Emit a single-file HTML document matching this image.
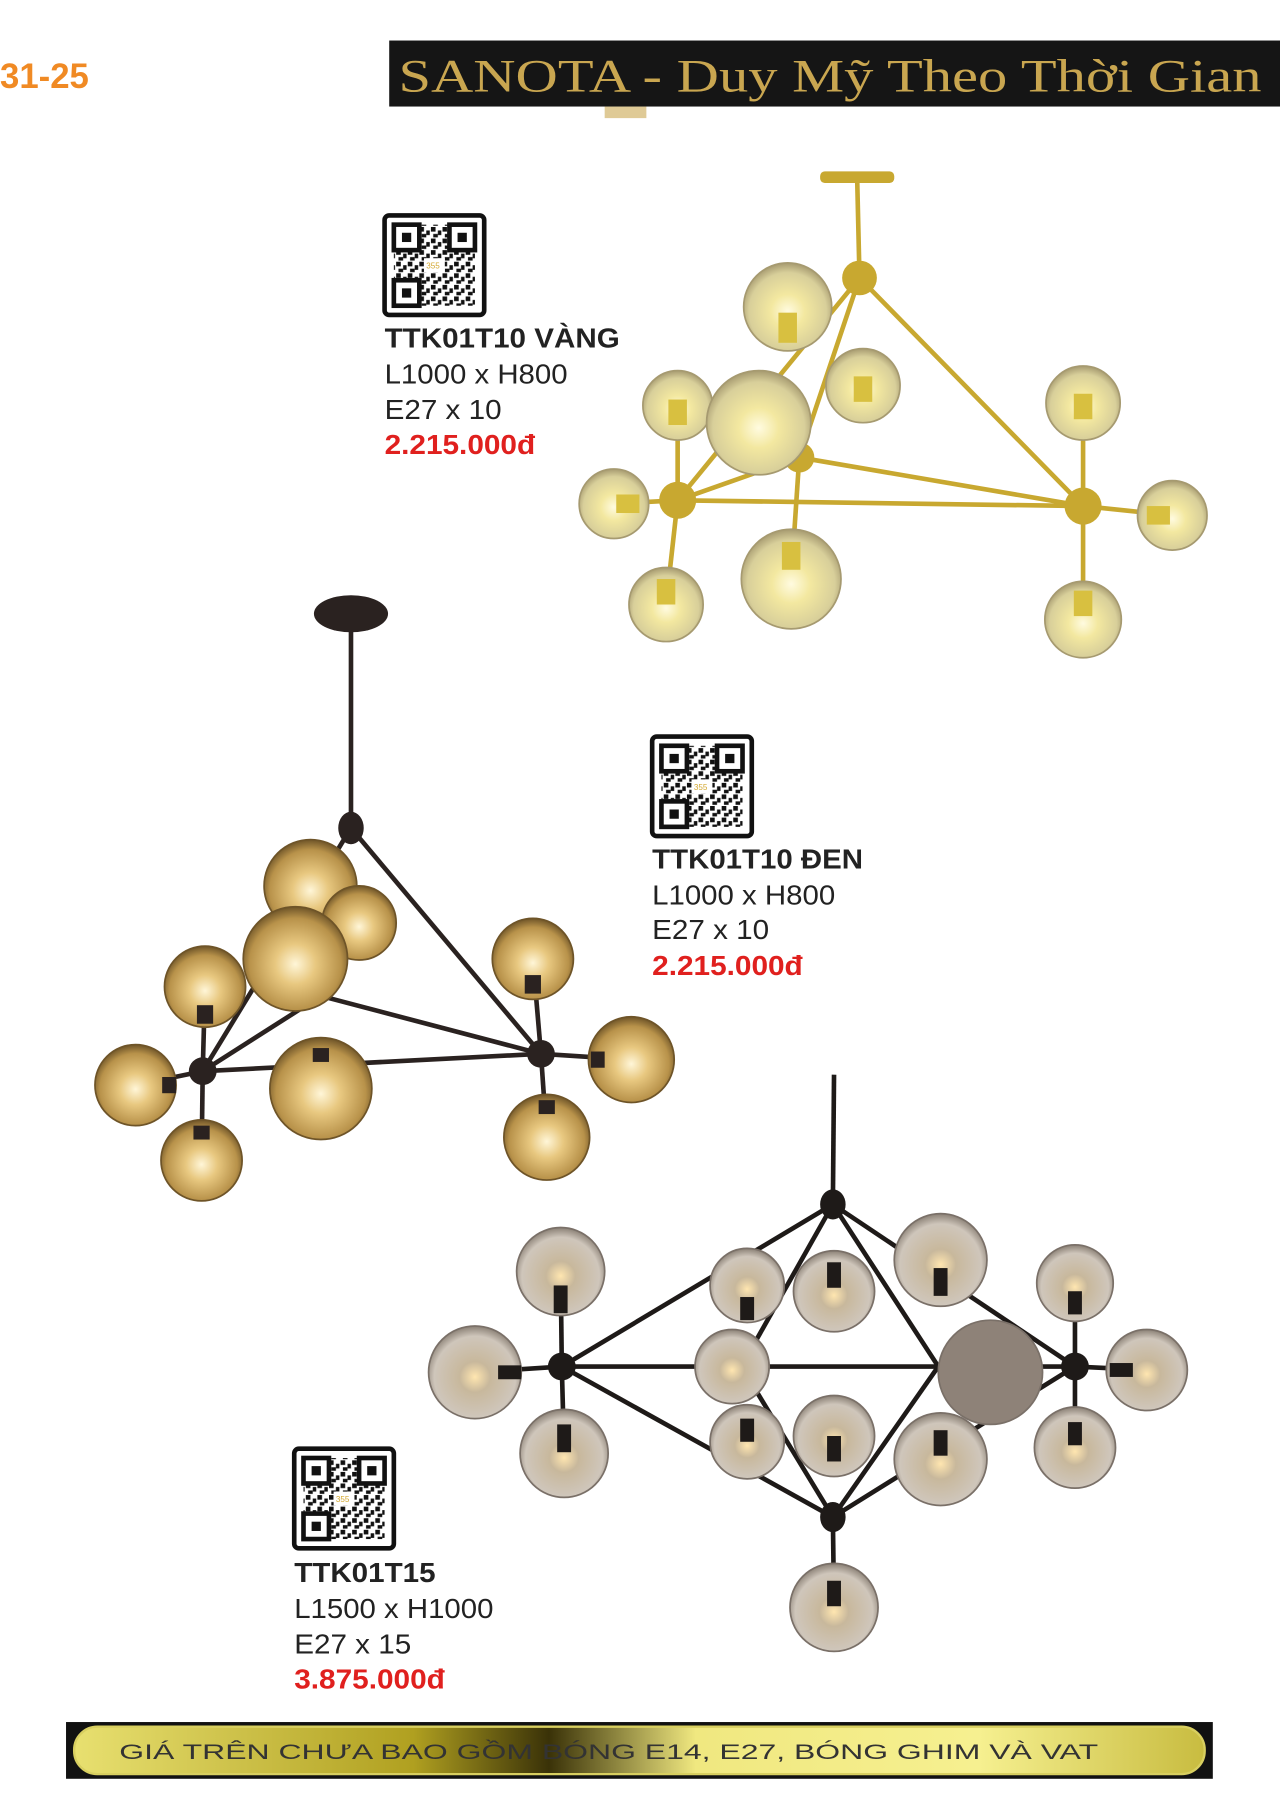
<!DOCTYPE html>
<html><head><meta charset="utf-8"><style>
html,body{margin:0;padding:0;background:#fff;}
svg{display:block;}
</style></head><body>
<svg width="1280" height="1817" viewBox="0 0 1105 1569" preserveAspectRatio="none" xmlns="http://www.w3.org/2000/svg">
<defs>
<radialGradient id="gold" cx="50%" cy="55%" r="55%">
<stop offset="0" stop-color="#fffbe0"/><stop offset="0.35" stop-color="#f3e8a0"/><stop offset="0.8" stop-color="#d8cf9a"/><stop offset="1" stop-color="#a69a70"/></radialGradient>
<radialGradient id="amber" cx="50%" cy="55%" r="55%">
<stop offset="0" stop-color="#fff6d8"/><stop offset="0.35" stop-color="#e8c880"/><stop offset="0.8" stop-color="#b8924a"/><stop offset="1" stop-color="#6e5428"/></radialGradient>
<radialGradient id="smoke" cx="50%" cy="55%" r="55%">
<stop offset="0" stop-color="#ffe6b0"/><stop offset="0.3" stop-color="#c8b89c"/><stop offset="0.8" stop-color="#cfc6bb"/><stop offset="1" stop-color="#8a8075"/></radialGradient>
<linearGradient id="foot" x1="0" x2="1" y1="0" y2="0">
<stop offset="0" stop-color="#e8e070"/><stop offset="0.3" stop-color="#b0a020"/><stop offset="0.42" stop-color="#3a3208"/><stop offset="0.55" stop-color="#f0e880"/><stop offset="0.8" stop-color="#f6f090"/><stop offset="1" stop-color="#c8bc40"/></linearGradient>
<pattern id="qrp" width="10" height="10" patternUnits="userSpaceOnUse">
<rect width="10" height="10" fill="#fff"/><rect x="0" y="0" width="4" height="4" fill="#111"/><rect x="6" y="3" width="3" height="4" fill="#111"/><rect x="2" y="6" width="4" height="3" fill="#111"/></pattern>
<g id="qr">
<rect x="0" y="0" width="86" height="86" rx="4" fill="#fff" stroke="#111" stroke-width="4"/>
<rect x="8" y="8" width="70" height="70" fill="url(#qrp)"/>
<rect x="8" y="8" width="22" height="22" fill="#fff" stroke="#111" stroke-width="4"/><rect x="15" y="15" width="8" height="8" fill="#111"/>
<rect x="56" y="8" width="22" height="22" fill="#fff" stroke="#111" stroke-width="4"/><rect x="63" y="15" width="8" height="8" fill="#111"/>
<rect x="8" y="56" width="22" height="22" fill="#fff" stroke="#111" stroke-width="4"/><rect x="15" y="63" width="8" height="8" fill="#111"/>
<rect x="34" y="37" width="18" height="12" fill="#fff"/><text x="36" y="46" font-size="7" fill="#d4a830" font-family="Liberation Sans, sans-serif">355</text>
</g>
</defs>
<!-- header -->
<text x="0" y="76" font-family="Liberation Sans, sans-serif" font-weight="bold" font-size="30" fill="#f08a24">31-25</text>
<rect x="336" y="35" width="769" height="57" fill="#151515"/>
<text x="344" y="79" font-family="Liberation Serif, serif" font-size="40" fill="#c9a650" textLength="745" lengthAdjust="spacingAndGlyphs">SANOTA - Duy Mỹ Theo Thời Gian</text>
<rect x="522" y="92" width="36" height="10" fill="#c9a650" opacity="0.6"/>
<!-- footer -->
<rect x="57" y="1487" width="990" height="49" fill="#111"/>
<rect x="64" y="1491" width="976" height="41" rx="20" fill="url(#foot)" stroke="#d8cf60" stroke-width="2"/>
<text x="103" y="1519" font-family="Liberation Sans, sans-serif" font-size="18" fill="#333" textLength="845" lengthAdjust="spacingAndGlyphs">GIÁ TRÊN CHƯA BAO GỒM BÓNG E14, E27, BÓNG GHIM VÀ VAT</text>

<!-- QR codes & labels -->
<g font-family="Liberation Sans, sans-serif" font-size="24" fill="#222">
<use href="#qr" x="332" y="186"/>
<text x="332" y="300" font-weight="bold" textLength="203" lengthAdjust="spacingAndGlyphs">TTK01T10 VÀNG</text>
<text x="332" y="331" textLength="158" lengthAdjust="spacingAndGlyphs">L1000 x H800</text>
<text x="332" y="362" textLength="101" lengthAdjust="spacingAndGlyphs">E27 x 10</text>
<text x="332" y="392" font-weight="bold" fill="#e0201e" textLength="130" lengthAdjust="spacingAndGlyphs">2.215.000đ</text>

<use href="#qr" x="563" y="636"/>
<text x="563" y="750" font-weight="bold" textLength="182" lengthAdjust="spacingAndGlyphs">TTK01T10 ĐEN</text>
<text x="563" y="781" textLength="158" lengthAdjust="spacingAndGlyphs">L1000 x H800</text>
<text x="563" y="811" textLength="101" lengthAdjust="spacingAndGlyphs">E27 x 10</text>
<text x="563" y="842" font-weight="bold" fill="#e0201e" textLength="130" lengthAdjust="spacingAndGlyphs">2.215.000đ</text>

<use href="#qr" x="254" y="1251"/>
<text x="254" y="1366" font-weight="bold" textLength="122" lengthAdjust="spacingAndGlyphs">TTK01T15</text>
<text x="254" y="1397" textLength="172" lengthAdjust="spacingAndGlyphs">L1500 x H1000</text>
<text x="254" y="1428" textLength="101" lengthAdjust="spacingAndGlyphs">E27 x 15</text>
<text x="254" y="1458" font-weight="bold" fill="#e0201e" textLength="130" lengthAdjust="spacingAndGlyphs">3.875.000đ</text>
</g>

<!-- chandelier 1 gold -->
<g stroke="#c8a830" stroke-width="4" fill="none">
<line x1="740" y1="155" x2="742" y2="240"/>
<line x1="742" y1="240" x2="585" y2="432"/><line x1="742" y1="240" x2="935" y2="437"/>
<line x1="585" y1="432" x2="935" y2="437"/><line x1="742" y1="240" x2="690" y2="395"/>
<line x1="690" y1="395" x2="585" y2="432"/><line x1="690" y1="395" x2="935" y2="437"/>
<line x1="585" y1="432" x2="585" y2="350"/><line x1="585" y1="432" x2="530" y2="435"/><line x1="585" y1="432" x2="575" y2="522"/>
<line x1="935" y1="437" x2="935" y2="348"/><line x1="935" y1="437" x2="1012" y2="445"/><line x1="935" y1="437" x2="935" y2="535"/>
<line x1="690" y1="395" x2="683" y2="500"/>
</g>
<rect x="708" y="148" width="64" height="10" rx="4" fill="#c8a830"/>
<g fill="#c8a830"><circle cx="742" cy="240" r="15"/><circle cx="585" cy="432" r="16"/><circle cx="935" cy="437" r="16"/><circle cx="690" cy="395" r="13"/></g>
<g fill="url(#gold)" stroke="#a69a70" stroke-width="1.5">
<circle cx="680" cy="265" r="38"/><circle cx="745" cy="333" r="32"/><circle cx="585" cy="350" r="30"/><circle cx="935" cy="348" r="32"/>
<circle cx="530" cy="435" r="30"/><circle cx="1012" cy="445" r="30"/><circle cx="575" cy="522" r="32"/><circle cx="683" cy="500" r="43"/><circle cx="935" cy="535" r="33"/><circle cx="655" cy="365" r="45"/>
</g>
<g fill="#d8c040"><rect x="672" y="270" width="16" height="26"/><rect x="737" y="325" width="16" height="22"/><rect x="577" y="345" width="16" height="22"/><rect x="927" y="340" width="16" height="22"/><rect x="567" y="500" width="16" height="22"/><rect x="675" y="468" width="16" height="24"/><rect x="927" y="510" width="16" height="22"/><rect x="532" y="427" width="20" height="16"/><rect x="990" y="437" width="20" height="16"/></g>

<!-- chandelier 2 black -->
<g stroke="#2a2220" stroke-width="4" fill="none">
<line x1="303" y1="530" x2="303" y2="715"/>
<line x1="303" y1="715" x2="175" y2="925"/><line x1="303" y1="715" x2="467" y2="910"/><line x1="175" y1="925" x2="467" y2="910"/>
<line x1="175" y1="925" x2="277" y2="860"/><line x1="277" y1="860" x2="467" y2="910"/>
<line x1="175" y1="925" x2="177" y2="852"/><line x1="175" y1="925" x2="117" y2="937"/><line x1="175" y1="925" x2="174" y2="1002"/>
<line x1="467" y1="910" x2="460" y2="828"/><line x1="467" y1="910" x2="545" y2="915"/><line x1="467" y1="910" x2="472" y2="982"/>
</g>
<ellipse cx="303" cy="530" rx="32" ry="16" fill="#2a2220"/>
<g fill="#2a2220"><ellipse cx="303" cy="715" rx="11" ry="14"/><circle cx="175" cy="925" r="12"/><circle cx="467" cy="910" r="12"/></g>
<g fill="url(#amber)" stroke="#6e5428" stroke-width="1.5">
<circle cx="268" cy="765" r="40"/><circle cx="310" cy="797" r="32"/><circle cx="177" cy="852" r="35"/><circle cx="460" cy="828" r="35"/>
<circle cx="117" cy="937" r="35"/><circle cx="545" cy="915" r="37"/><circle cx="277" cy="940" r="44"/><circle cx="174" cy="1002" r="35"/><circle cx="472" cy="982" r="37"/><circle cx="255" cy="828" r="45"/>
</g>
<g fill="#2a2220"><rect x="170" y="868" width="14" height="16"/><rect x="453" y="842" width="14" height="16"/><rect x="270" y="905" width="14" height="12"/><rect x="167" y="972" width="14" height="12"/><rect x="465" y="950" width="14" height="12"/><rect x="510" y="908" width="12" height="14"/><rect x="140" y="930" width="12" height="14"/></g>

<!-- chandelier 3 -->
<g stroke="#1e1a18" stroke-width="4" fill="none">
<line x1="720" y1="928" x2="719" y2="1040"/>
<line x1="719" y1="1040" x2="485" y2="1180"/><line x1="719" y1="1040" x2="928" y2="1180"/>
<line x1="485" y1="1180" x2="719" y2="1310"/><line x1="928" y1="1180" x2="719" y2="1310"/>
<line x1="485" y1="1180" x2="928" y2="1180"/>
<line x1="719" y1="1040" x2="640" y2="1180"/><line x1="719" y1="1040" x2="810" y2="1180"/>
<line x1="640" y1="1180" x2="719" y2="1310"/><line x1="810" y1="1180" x2="719" y2="1310"/>
<line x1="719" y1="1310" x2="720" y2="1388"/>
<line x1="485" y1="1180" x2="484" y2="1098"/><line x1="485" y1="1180" x2="410" y2="1185"/><line x1="485" y1="1180" x2="487" y2="1255"/>
<line x1="928" y1="1180" x2="928" y2="1108"/><line x1="928" y1="1180" x2="990" y2="1183"/><line x1="928" y1="1180" x2="928" y2="1250"/>
</g>
<g fill="#1e1a18"><ellipse cx="719" cy="1040" rx="11" ry="13"/><ellipse cx="719" cy="1310" rx="11" ry="13"/><circle cx="485" cy="1180" r="12"/><circle cx="928" cy="1180" r="12"/></g>
<g fill="url(#smoke)" stroke="#7a7068" stroke-width="1.5">
<circle cx="484" cy="1098" r="38"/><circle cx="410" cy="1185" r="40"/><circle cx="487" cy="1255" r="38"/><circle cx="645" cy="1110" r="32"/>
<circle cx="720" cy="1115" r="35"/><circle cx="812" cy="1088" r="40"/><circle cx="928" cy="1108" r="33"/><circle cx="632" cy="1180" r="32"/>
<circle cx="990" cy="1183" r="35"/><circle cx="645" cy="1245" r="32"/><circle cx="720" cy="1240" r="35"/><circle cx="812" cy="1260" r="40"/>
<circle cx="928" cy="1250" r="35"/><circle cx="720" cy="1388" r="38"/><circle cx="855" cy="1185" r="45" fill="#8e8278"/>
</g>
<g fill="#1e1a18"><rect x="478" y="1110" width="12" height="24"/><rect x="481" y="1230" width="12" height="24"/><rect x="639" y="1120" width="12" height="20"/><rect x="714" y="1090" width="12" height="22"/><rect x="806" y="1095" width="12" height="24"/><rect x="922" y="1115" width="12" height="20"/><rect x="639" y="1225" width="12" height="20"/><rect x="714" y="1240" width="12" height="22"/><rect x="806" y="1235" width="12" height="22"/><rect x="922" y="1228" width="12" height="20"/><rect x="714" y="1365" width="12" height="22"/><rect x="430" y="1179" width="20" height="12"/><rect x="958" y="1177" width="20" height="12"/></g>
</svg>
</body></html>
